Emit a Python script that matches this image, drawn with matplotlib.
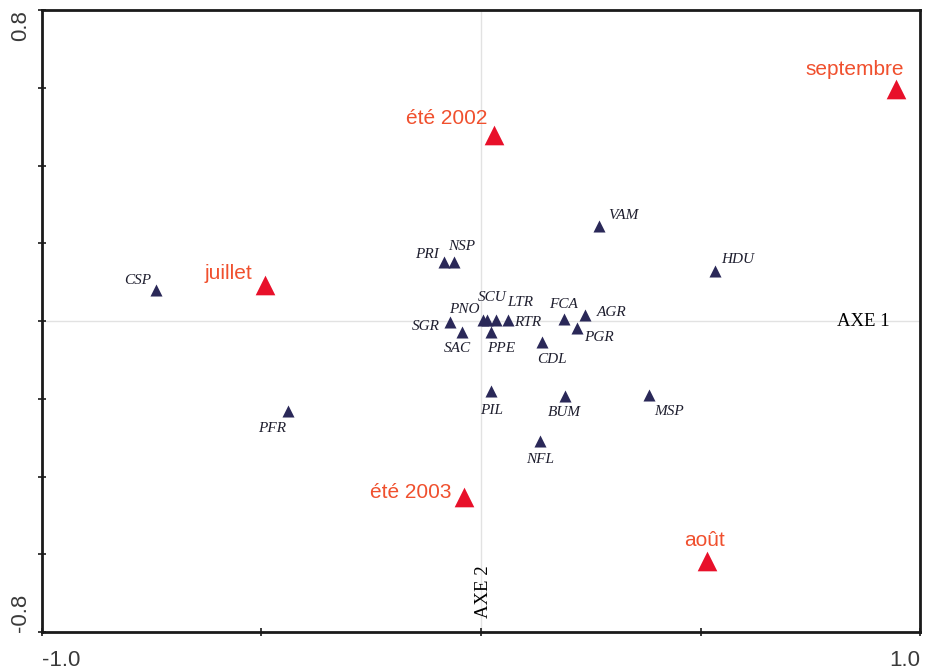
import matplotlib.pyplot as plt

# Species scores (axe 1, axe 2)
species = ["CSP", "PRI", "NSP", "VAM", "HDU", "PNO", "SCU", "LTR", "RTR",
           "SGR", "SAC", "PPE", "FCA", "AGR", "PGR", "CDL", "PIL", "BUM",
           "MSP", "NFL", "PFR"]
species_x = [-0.741, -0.084, -0.061, 0.268, 0.532, 0.005, 0.014, 0.034, 0.061,
             -0.070, -0.043, 0.023, 0.189, 0.236, 0.218, 0.139, 0.023, 0.191,
             0.382, 0.134, -0.439]
species_y = [0.080, 0.152, 0.152, 0.244, 0.129, 0.003, 0.003, 0.003, 0.003,
             -0.003, -0.028, -0.028, 0.005, 0.015, -0.018, -0.054, -0.180, -0.193,
             -0.190, -0.309, -0.232]
# label offsets in pixels and horizontal alignment
species_off = [(-4, 9, "right"), (-5, 7, "right"), (-6, 15, "left"), (10, 11, "left"),
               (7, 11, "left"), (-4, 10, "right"), (5, 22, "center"), (11, 17, "left"),
               (6, -3, "left"), (-10, -4, "right"), (-5, -17, "center"), (10, -17, "center"),
               (0, 15, "center"), (12, 3, "left"), (7, -9, "left"), (10, -17, "center"),
               (0, -19, "center"), (0, -16, "center"), (5, -17, "left"), (0, -18, "center"),
               (-2, -17, "right")]

# Period scores
periods = ["septembre", "été 2002", "juillet", "été 2003", "août"]
periods_x = [0.945, 0.030, -0.493, -0.039, 0.514]
periods_y = [0.597, 0.478, 0.093, -0.453, -0.617]
periods_off = [(8, 19, "right"), (-7, 17, "right"), (-12, 11, "right"),
               (-12, 5, "right"), (-2, 20, "center")]

fig = plt.figure(figsize=(9.25, 6.7), dpi=100)
ax = fig.add_axes([0.0454, 0.0567, 0.9492, 0.9283])
ax.set_xlim(-1.0, 1.0)
ax.set_ylim(-0.8, 0.8)

ax.axhline(0, color="#e2e2e2", lw=1.0, zorder=0)
ax.axvline(0, color="#e2e2e2", lw=1.0, zorder=0)

ax.scatter(species_x, species_y, marker="^", s=75, color="#2a2858", zorder=3, linewidths=0)
for name, x, y, (dx, dy, ha) in zip(species, species_x, species_y, species_off):
    ax.annotate(name, (x, y), xytext=(dx, dy), textcoords="offset pixels",
                ha=ha, va="center", fontsize=11, style="italic",
                family="Liberation Serif", color="#1e1e2e")

ax.scatter(periods_x, periods_y, marker="^", s=200, color="#e8102a", zorder=3, linewidths=0)
for name, x, y, (dx, dy, ha) in zip(periods, periods_x, periods_y, periods_off):
    ax.annotate(name, (x, y), xytext=(dx, dy), textcoords="offset pixels",
                ha=ha, va="center", fontsize=15, family="Liberation Sans",
                color="#f0502e")

ax.text(0.93, 0.0, "AXE 1", ha="right", va="center", fontsize=13.5,
        family="Liberation Serif", color="black")
ax.text(0.005, -0.695, "AXE 2", ha="center", va="center", rotation=90, fontsize=13.5,
        family="Liberation Serif", color="black")

for side in ["left", "right", "top", "bottom"]:
    ax.spines[side].set_linewidth(2.0)
    ax.spines[side].set_color("#1a1a1a")

ax.set_xticks([-1.0, -0.5, 0.0, 0.5, 1.0])
ax.set_xticklabels(["-1.0", "", "", "", "1.0"])
ax.set_yticks([-0.8, -0.6, -0.4, -0.2, 0.0, 0.2, 0.4, 0.6, 0.8])
ax.set_yticklabels(["-0.8", "", "", "", "", "", "", "", "0.8"], rotation=90)
ax.tick_params(axis="both", direction="inout", length=6, width=1.2, color="#1a1a1a",
               labelsize=16, labelcolor="#3a3a3a")
ax.tick_params(axis="x", pad=10)
ax.tick_params(axis="y", pad=5)
for lab in ax.get_xticklabels():
    lab.set_family("Liberation Sans")
for lab in ax.get_yticklabels():
    lab.set_family("Liberation Sans")
xl = ax.get_xticklabels()
xl[0].set_ha("left")
xl[-1].set_ha("right")
yl = ax.get_yticklabels()
yl[0].set_va("bottom")
yl[-1].set_va("top")

fig.savefig("out.png", dpi=100)
